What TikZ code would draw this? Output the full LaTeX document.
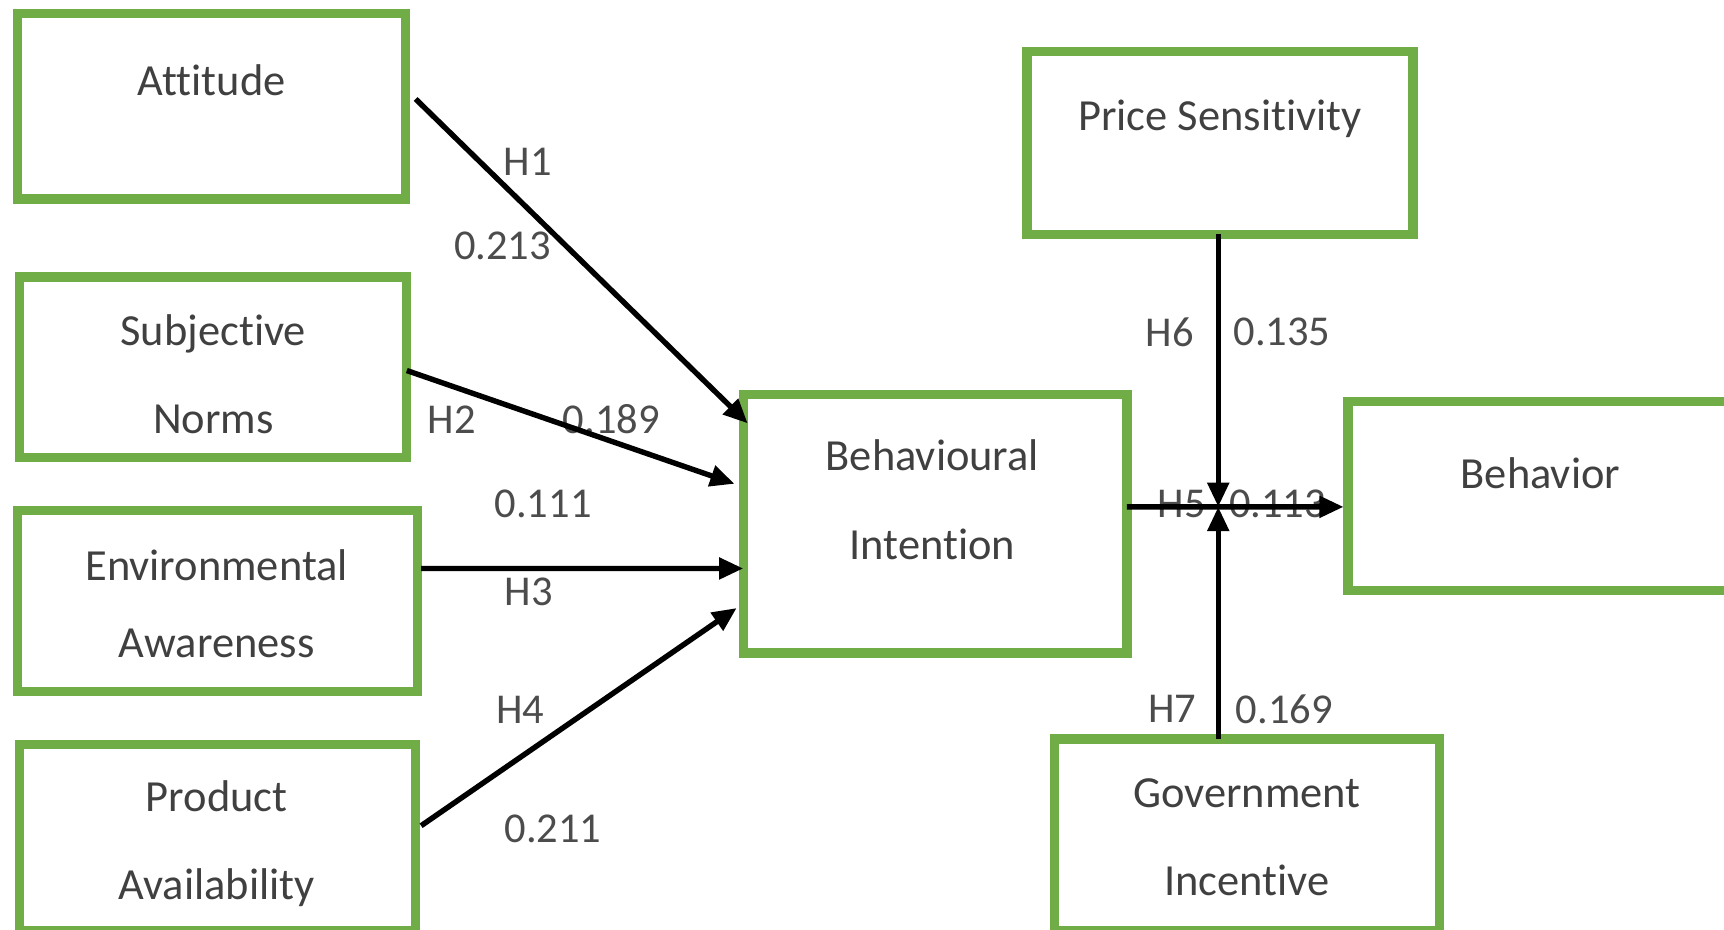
\documentclass[tikz,border=0pt]{standalone}
\usepackage{fontspec}
\setmainfont{Carlito}[Ligatures=NoCommon]
\usetikzlibrary{arrows.meta,positioning,calc}
\definecolor{boxgreen}{HTML}{70AD47}
\tikzset{
  %Define standard arrow tip
  >={Triangle[length=2.2mm,width=1.9mm]},
  %Define style for construct boxes
  konstrukt/.style={
    rectangle,
    draw=boxgreen, line width=0.85mm,
    inner sep=0pt, outer sep=0pt},
  %Text set inside the boxes
  tekst/.style={
    font=\fontsize{11.5}{22.8}\selectfont,
    text=black!75,
    align=center},
  %Hypothesis tags and path values
  verdi/.style={
    font=\fontsize{11}{13}\selectfont,
    text=black!70},
  % Define arrow style
  sti/.style={
    ->,
    line width=1.4pt}
}

\begin{document}
\begin{tikzpicture}
  \useasboundingbox (0,0) rectangle (15.68,-8.45);
  \clip (0,0) rectangle (15.68,-8.45);
  % constructs
  \node[konstrukt, minimum width=3.53cm, minimum height=1.69cm] (att) at (1.925,-0.965) {};
  \node[konstrukt, minimum width=3.52cm, minimum height=1.64cm] (sn) at (1.94,-3.34) {};
  \node[konstrukt, minimum width=3.64cm, minimum height=1.65cm] (env) at (1.98,-5.465) {};
  \node[konstrukt, minimum width=3.60cm, minimum height=1.69cm] (pa) at (1.98,-7.615) {};
  \node[konstrukt, minimum width=3.49cm, minimum height=2.35cm] (bi) at (8.505,-4.765) {};
  \node[konstrukt, minimum width=3.51cm, minimum height=1.66cm] (ps) at (11.095,-1.30) {};
  \node[konstrukt, minimum width=3.50cm, minimum height=1.72cm] (beh) at (14.01,-4.51) {};
  \node[konstrukt, minimum width=3.50cm, minimum height=1.74cm] (gi) at (11.34,-7.59) {};
  % box texts
  \node[tekst] (att-t) at ([yshift=2.35mm]att.center) {Attitude};
  \node[tekst] (sn-t) at ([yshift=-0.6mm]sn.center) {Subjective\\Norms};
  \node[tekst] (env-t) at ([xshift=-0.1mm,yshift=-0.25mm]env.center) {Environmental\\[-1mm]Awareness};
  \node[tekst] (pa-t) at ([xshift=-0.1mm,yshift=-0.55mm]pa.center) {Product\\Availability};
  \node[tekst] (bi-t) at ([xshift=-0.25mm,yshift=2.2mm]bi.center) {Behavioural\\Intention};
  \node[tekst] (ps-t) at ([yshift=2.2mm]ps.center) {Price Sensitivity};
  \node[tekst] (beh-t) at ([yshift=2.1mm]beh.center) {Behavior};
  \node[tekst] (gi-t) at ([yshift=-0.25mm]gi.center) {Government\\Incentive};
  % hypotheses and coefficients
  \node[verdi] (h1) at (4.80,-1.47) {H1};
  \node[verdi] (c1) at (4.57,-2.24) {0.213};
  \node[verdi] (h2) at (4.11,-3.82) {H2};
  \node[verdi] (c2) at (5.56,-3.81) {0.189};
  \node[verdi] (c3) at (4.94,-4.58) {0.111};
  \node[verdi] (h3) at (4.81,-5.38) {H3};
  \node[verdi] (h4) at (4.73,-6.46) {H4};
  \node[verdi] (c4) at (5.03,-7.54) {0.211};
  \node[verdi] (h5) at (10.75,-4.58) {H5};
  \node[verdi] (c5) at (11.62,-4.58) {0.113};
  \node[verdi] (h6) at (10.64,-3.02) {H6};
  \node[verdi] (c6) at (11.66,-3.02) {0.135};
  \node[verdi] (h7) at (10.66,-6.45) {H7};
  \node[verdi] (c7) at (11.68,-6.45) {0.169};
  % paths
  \coordinate (j) at (11.08,-4.61);
  \draw[sti] ([xshift=0.9mm,yshift=0.65mm]att.east) -- ([xshift=0.4mm,yshift=9.15mm]bi.west);
  \draw[sti] ([yshift=-0.3mm]sn.east) -- ([xshift=-0.8mm,yshift=3.65mm]bi.west);
  \draw[sti] ([xshift=0.3mm,yshift=2.95mm]env.east) -- ([yshift=-4.05mm]bi.west);
  \draw[sti] ([xshift=0.5mm,yshift=1.05mm]pa.east) -- ([xshift=-0.6mm,yshift=-7.65mm]bi.west);
  \draw[sti] ([yshift=1.55mm]bi.east) -- ([xshift=-0.4mm,yshift=-1mm]beh.west);
  \draw[sti] (j |- ps.south) -- (j);
  \draw[sti] (j |- gi.north) -- (j);
\end{tikzpicture}
\end{document}
